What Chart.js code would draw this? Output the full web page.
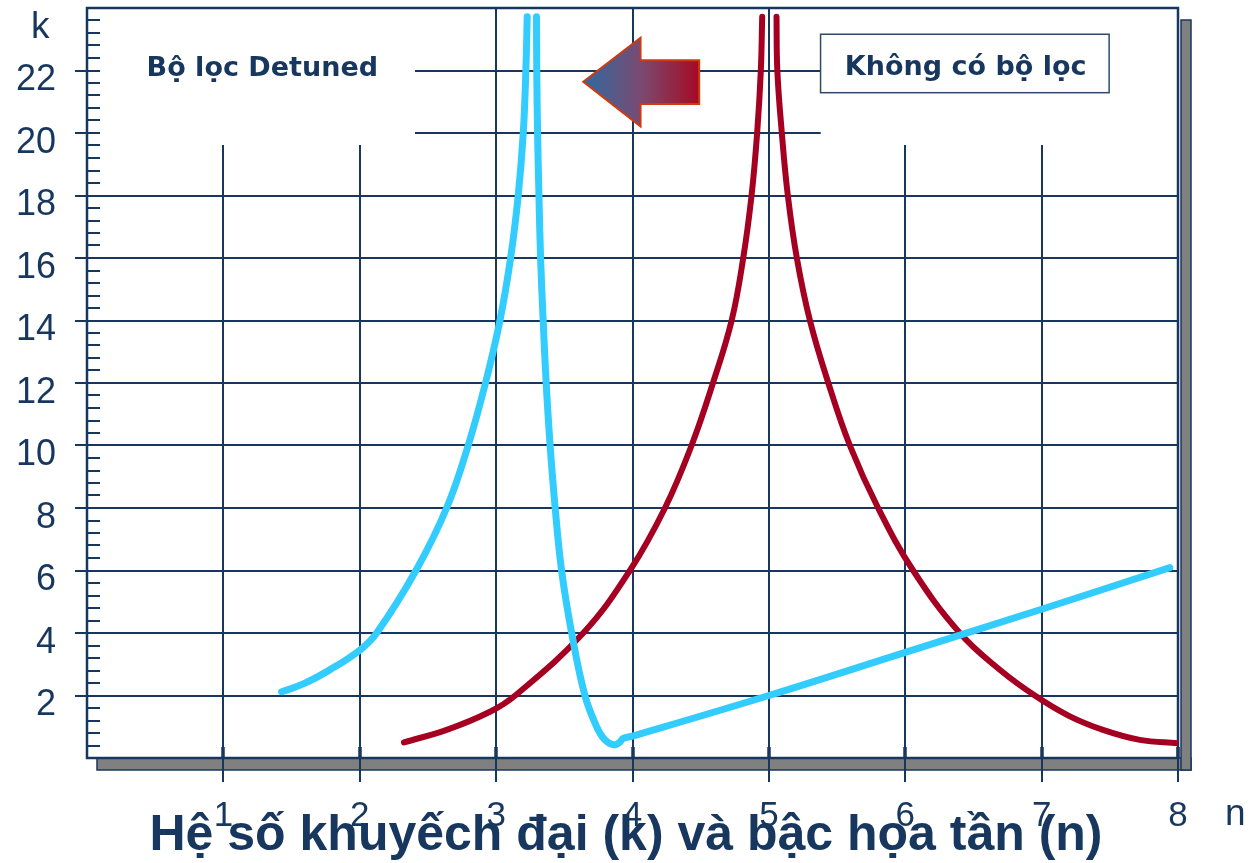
<!DOCTYPE html>
<html lang="vi">
<head>
<meta charset="utf-8">
<title>Hệ số khuyếch đại (k) và bậc họa tần (n)</title>
<script src="https://cdn.jsdelivr.net/npm/chart.js@4.4.1/dist/chart.umd.min.js"></script>
<style>
  html, body { margin: 0; padding: 0; background: #fff; }
  #wrap { width: 1258px; height: 863px; }
</style>
</head>
<body>
<div id="wrap"><canvas id="chart" width="1258" height="863"></canvas></div>
<script>
// Bộ lọc Detuned (light blue) - null splits the two branches of the peak
var detunedN = [1.427, 1.586, 1.78, 2.00, 2.124, 2.412, 2.637, 2.795, 2.922, 3.028, 3.106, 3.162, 3.199, 3.218, 3.228,
                null,
                3.296, 3.298, 3.304, 3.314, 3.326, 3.345, 3.367, 3.396, 3.433, 3.480, 3.554, 3.651, 3.737, 3.798, 3.864, 3.903, 3.932,
                4.0, 5.0, 6.0, 7.0, 7.94];
var detunedK = [2.12, 2.37, 2.82, 3.45, 4.0, 6.0, 8.0, 10.0, 12.0, 14.0, 16.0, 18.0, 20.0, 22.0, 23.72,
                null,
                23.72, 22.0, 20.0, 18.0, 16.0, 14.0, 12.0, 10.0, 8.0, 6.0, 4.0, 2.0, 1.0, 0.58, 0.42, 0.49, 0.63,
                0.70, 2.0, 3.38, 4.76, 6.09];

// Không có bộ lọc (dark red)
var noFilterN = [2.324, 2.637, 2.955, 3.14, 3.639, 3.981, 4.238, 4.433, 4.590, 4.727, 4.812, 4.873, 4.914, 4.941, 4.951,
                 null,
                 5.056, 5.062, 5.095, 5.139, 5.205, 5.301, 5.436, 5.594, 5.801, 6.058, 6.40, 6.70, 6.95, 7.20, 7.45, 7.72, 8.0];
var noFilterK = [0.50, 0.90, 1.48, 2.0, 4.0, 6.0, 8.0, 10.0, 12.0, 14.0, 16.0, 18.0, 20.0, 22.0, 23.72,
                 null,
                 23.72, 22.0, 20.0, 18.0, 16.0, 14.0, 12.0, 10.0, 8.0, 6.0, 4.0, 2.8, 2.0, 1.35, 0.90, 0.58, 0.47];

var nTicks = [1, 2, 3, 4, 5, 6, 7, 8];
var kTicks = [2, 4, 6, 8, 10, 12, 14, 16, 18, 20, 22];

var titleText = "Hệ số khuyếch đại (k) và bậc họa tần (n)";
var detunedLabel = "Bộ lọc Detuned";
var noFilterLabel = "Không có bộ lọc";

var navy = "#17375E";
var sans = "'Liberation Sans', Arial, sans-serif";
var verdana = "'DejaVu Sans', Verdana, sans-serif";

function toPoints(xs, ys) {
	var pts = [];
	for (var i = 0; i < xs.length; i++) pts.push({ x: xs[i], y: ys[i] });
	return pts;
}

// grid, frame, shadow and ticks of the slide drawing
var gridPlugin = {
	id: "slideGrid",
	beforeDatasetsDraw: function(chart) {
		var ctx = chart.ctx, a = chart.chartArea;
		var sx = chart.scales.x, sy = chart.scales.y;
		ctx.save();

		// grey shadow of the frame
		ctx.fillStyle = "#808080";
		ctx.strokeStyle = navy;
		ctx.lineWidth = 1.5;
		ctx.fillRect(a.left + 10, a.bottom, a.right - a.left + 3, 12);
		ctx.strokeRect(a.left + 10, a.bottom, a.right - a.left + 3, 12);
		ctx.fillRect(a.right + 3, a.top + 12, 10, a.bottom - a.top);
		ctx.strokeRect(a.right + 3, a.top + 12, 10, a.bottom - a.top);
		ctx.fillStyle = "#fff";
		ctx.fillRect(a.left, a.top, a.right - a.left, a.bottom - a.top);

		ctx.strokeStyle = navy;
		ctx.lineWidth = 2;

		// horizontal grid lines; 20 and 22 only run between the two labels
		kTicks.forEach(function(k) {
			var y = Math.round(sy.getPixelForValue(k));
			ctx.beginPath();
			if (k >= 20) {
				ctx.moveTo(a.left - 12, y); ctx.lineTo(a.left + 13, y);
				ctx.moveTo(sx.getPixelForValue(2.405), y); ctx.lineTo(sx.getPixelForValue(5.38), y);
			} else {
				ctx.moveTo(a.left - 12, y); ctx.lineTo(a.right, y);
			}
			ctx.stroke();
		});

		// vertical grid lines, 1 2 6 7 stop below the labels
		nTicks.forEach(function(n) {
			var x = Math.round(sx.getPixelForValue(n));
			var top = (n === 1 || n === 2 || n === 6 || n === 7) ? sy.getPixelForValue(19.62) : a.top;
			ctx.beginPath();
			ctx.moveTo(x, a.bottom + 24);
			ctx.lineTo(x, top);
			ctx.stroke();
			ctx.lineWidth = 3.5;
			ctx.beginPath();
			ctx.moveTo(x, a.bottom);
			ctx.lineTo(x, a.bottom - 11);
			ctx.stroke();
			ctx.lineWidth = 2;
		});

		// minor ticks on k axis
		for (var i = 1; i < 60; i++) {
			var ym = Math.round(sy.getPixelForValue(i * 0.4));
			ctx.beginPath();
			ctx.moveTo(a.left, ym);
			ctx.lineTo(a.left + 13, ym);
			ctx.stroke();
		}

		// frame
		ctx.lineWidth = 2.5;
		ctx.strokeRect(a.left, a.top, a.right - a.left, a.bottom - a.top);
		ctx.restore();
	},
	afterDraw: function(chart) {
		var ctx = chart.ctx, a = chart.chartArea;
		var sx = chart.scales.x, sy = chart.scales.y;
		ctx.save();

		// arrow from "Không có bộ lọc" to "Bộ lọc Detuned"
		var tipX = sx.getPixelForValue(3.639), tipY = sy.getPixelForValue(21.64);
		var baseX = sx.getPixelForValue(4.059), endX = sx.getPixelForValue(4.489);
		var headTop = sy.getPixelForValue(23.05), headBot = sy.getPixelForValue(20.21);
		var shaftTop = sy.getPixelForValue(22.33), shaftBot = sy.getPixelForValue(20.93);
		var grad = ctx.createLinearGradient(tipX, 0, endX, 0);
		grad.addColorStop(0, "#2F6A9F");
		grad.addColorStop(0.5, "#7A4A72");
		grad.addColorStop(1, "#A50A24");
		ctx.beginPath();
		ctx.moveTo(tipX, tipY);
		ctx.lineTo(baseX, headTop);
		ctx.lineTo(baseX, shaftTop);
		ctx.lineTo(endX, shaftTop);
		ctx.lineTo(endX, shaftBot);
		ctx.lineTo(baseX, shaftBot);
		ctx.lineTo(baseX, headBot);
		ctx.closePath();
		ctx.fillStyle = grad;
		ctx.fill();
		ctx.strokeStyle = "#D03A0C";
		ctx.lineWidth = 2;
		ctx.lineJoin = "miter";
		ctx.stroke();

		// labels of the two curves
		ctx.fillStyle = navy;
		ctx.font = "bold 27px " + verdana;
		ctx.textAlign = "left";
		ctx.textBaseline = "alphabetic";
		ctx.fillText(detunedLabel, sx.getPixelForValue(0.437), sy.getPixelForValue(21.82));

		var bx = sx.getPixelForValue(5.379), by = sy.getPixelForValue(23.16);
		var bw = sx.getPixelForValue(7.495) - bx, bh = sy.getPixelForValue(21.29) - by;
		ctx.fillStyle = "#fff";
		ctx.fillRect(bx, by, bw, bh);
		ctx.strokeStyle = "#2E4A6B";
		ctx.lineWidth = 1.5;
		ctx.strokeRect(bx, by, bw, bh);
		ctx.fillStyle = navy;
		ctx.fillText(noFilterLabel, sx.getPixelForValue(5.557), sy.getPixelForValue(21.86));

		// axis names
		ctx.font = "37px " + sans;
		ctx.fillText("k", a.left - 56, a.top + 30);
		ctx.fillText("n", a.right + 47, a.bottom + 67);

		// title
		ctx.font = "bold 50px " + sans;
		ctx.textAlign = "center";
		ctx.fillText(titleText, 626, 850);
		ctx.restore();
	}
};

var chart = new Chart(document.getElementById("chart"), {
	type: "scatter",
	data: {
		datasets: [
			{
				label: detunedLabel,
				data: toPoints(detunedN, detunedK),
				showLine: true,
				borderColor: "#33CCFF",
				borderWidth: 7,
				borderCapStyle: "round",
				borderJoinStyle: "round",
				tension: 0.4,
				pointRadius: 0,
				spanGaps: false,
				clip: 0
			},
			{
				label: noFilterLabel,
				data: toPoints(noFilterN, noFilterK),
				showLine: true,
				borderColor: "#A50021",
				borderWidth: 6,
				borderCapStyle: "round",
				borderJoinStyle: "round",
				tension: 0.4,
				pointRadius: 0,
				spanGaps: false,
				clip: 0
			}
		]
	},
	options: {
		responsive: false,
		animation: false,
		layout: { padding: { top: 8, right: 80, left: 0, bottom: 0 } },
		plugins: {
			legend: { display: false },
			tooltip: { enabled: false },
			title: { display: false }
		},
		scales: {
			x: {
				type: "linear",
				min: 0,
				max: 8,
				afterFit: function(s) { s.height = 105; s.paddingLeft = 0; s.paddingRight = 0; },
				afterBuildTicks: function(s) { s.ticks = nTicks.map(function(v) { return { value: v }; }); },
				grid: { display: false, drawTicks: false },
				border: { display: false },
				ticks: { autoSkip: false, maxRotation: 0, padding: 37, color: navy, font: { family: sans, size: 35 } }
			},
			y: {
				type: "linear",
				min: 0,
				max: 24,
				afterFit: function(s) { s.width = 87; s.paddingTop = 0; s.paddingBottom = 0; },
				afterBuildTicks: function(s) { s.ticks = kTicks.map(function(v) { return { value: v }; }); },
				grid: { display: false, drawTicks: false },
				border: { display: false },
				ticks: { autoSkip: false, padding: 31, labelOffset: 10, color: navy, font: { family: sans, size: 36 } }
			}
		}
	},
	plugins: [gridPlugin]
});
</script>
</body>
</html>
